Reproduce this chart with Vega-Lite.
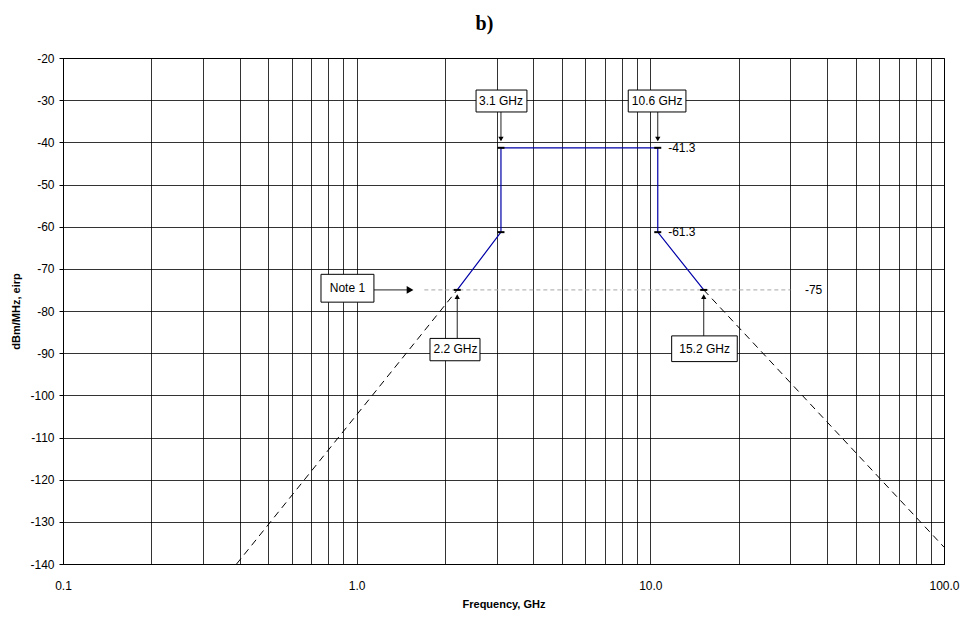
{
  "$schema": "https://vega.github.io/schema/vega-lite/v6.json",
  "autosize": "none",
  "width": 881,
  "height": 506,
  "padding": {"left": 63, "top": 58, "right": 22, "bottom": 53},
  "background": "white",
  "title": {"text": "b)", "font": "Liberation Serif", "fontSize": 20, "fontWeight": "bold", "color": "black", "anchor": "middle", "dx": -19, "baseline": "alphabetic", "offset": 2},
  "config": {
    "view": {"stroke": "black", "strokeWidth": 1},
    "axis": {"labelFont": "Liberation Sans", "labelFontSize": 12, "labelColor": "black", "titleFont": "Liberation Sans", "titleFontSize": 11, "titleFontWeight": "bold", "titleColor": "black", "gridColor": "black", "gridOpacity": 0.8, "gridWidth": 1, "domainColor": "black", "tickColor": "black", "labelFlush": false, "labelOverlap": false}
  },
  "datasets": {
    "blue": [{"i": 1, "f": 2.2, "v": -75}, {"i": 2, "f": 3.1, "v": -61.3}, {"i": 3, "f": 3.1, "v": -41.3}, {"i": 4, "f": 10.6, "v": -41.3}, {"i": 5, "f": 10.6, "v": -61.3}, {"i": 6, "f": 15.2, "v": -75}],
    "dashL": [{"f": 0.39, "v": -140}, {"f": 2.2, "v": -75}],
    "dashR": [{"f": 15.2, "v": -75}, {"f": 100, "v": -136}],
    "limit": [{"f": 1.7, "v": -75}, {"f": 30, "v": -75}],
    "boxes": [
      {"f": 2.55, "f2": 3.8, "v": -27.6, "v2": -32.8},
      {"f": 8.41, "f2": 13.22, "v": -27.6, "v2": -32.8},
      {"f": 0.756, "f2": 1.145, "v": -71.3, "v2": -77.9},
      {"f": 1.777, "f2": 2.63, "v": -86.5, "v2": -91.8},
      {"f": 11.82, "f2": 19.77, "v": -85.9, "v2": -92.0}
    ],
    "boxLabels": [
      {"f": 3.1, "v": -30.2, "label": "3.1 GHz"},
      {"f": 10.55, "v": -30.2, "label": "10.6 GHz"},
      {"f": 0.93, "v": -74.6, "label": "Note 1"},
      {"f": 2.17, "v": -89.1, "label": "2.2 GHz"},
      {"f": 15.3, "v": -88.9, "label": "15.2 GHz"}
    ],
    "valueLabels": [
      {"f": 11.5, "v": -41.3, "label": "-41.3"},
      {"f": 11.5, "v": -61.3, "label": "-61.3"},
      {"f": 33.6, "v": -75, "label": "-75"}
    ],
    "arrows": [
      {"f": 3.1, "f2": 3.1, "v": -32.8, "v2": -39.5},
      {"f": 10.6, "f2": 10.6, "v": -32.8, "v2": -39.5},
      {"f": 1.145, "f2": 1.5, "v": -75, "v2": -75},
      {"f": 2.2, "f2": 2.2, "v": -86.5, "v2": -77},
      {"f": 15.2, "f2": 15.2, "v": -85.9, "v2": -77}
    ],
    "headsDown": [{"f": 3.1, "v": -39.2}, {"f": 10.6, "v": -39.2}],
    "headsUp": [{"f": 2.2, "v": -76.6}, {"f": 15.2, "v": -76.6}],
    "headsRight": [{"f": 1.52, "v": -75}],
    "markers": [{"f": 2.2, "v": -75}, {"f": 3.1, "v": -61.3}, {"f": 3.1, "v": -41.3}, {"f": 10.6, "v": -41.3}, {"f": 10.6, "v": -61.3}, {"f": 15.2, "v": -75}]
  },
  "encoding": {
    "x": {"field": "f", "type": "quantitative", "scale": {"type": "log", "domain": [0.1, 100], "nice": false},
      "axis": {"title": "Frequency, GHz", "values": [0.1,0.2,0.3,0.4,0.5,0.6,0.7,0.8,0.9,1,2,3,4,5,6,7,8,9,10,20,30,40,50,60,70,80,90,100], "labelExpr": "(datum.value == 0.1 || datum.value == 1 || datum.value == 10 || datum.value == 100) ? format(datum.value, '.1f') : ''", "ticks": false, "labelPadding": 16, "titlePadding": 7, "grid": true}},
    "y": {"field": "v", "type": "quantitative", "scale": {"domain": [-140, -20], "nice": false, "zero": false},
      "axis": {"title": "dBm/MHz, eirp", "values": [-140,-130,-120,-110,-100,-90,-80,-70,-60,-50,-40,-30,-20], "labelExpr": "toString(datum.value)", "tickSize": 4, "labelPadding": 5, "titlePadding": 8, "grid": true}}
  },
  "layer": [
    {"data": {"name": "limit"}, "mark": {"type": "line", "color": "#a6a6a6", "strokeWidth": 1, "strokeDash": [4, 3]}},
    {"data": {"name": "dashL"}, "mark": {"type": "line", "color": "black", "strokeWidth": 1, "strokeDash": [7, 5], "clip": true}},
    {"data": {"name": "dashR"}, "mark": {"type": "line", "color": "black", "strokeWidth": 1, "strokeDash": [7, 5], "clip": true}},
    {"data": {"name": "blue"}, "mark": {"type": "line", "color": "#0000a8", "strokeWidth": 1.2}, "encoding": {"order": {"field": "i", "type": "quantitative"}}},
    {"data": {"name": "markers"}, "mark": {"type": "point", "shape": "M-1,0L1,0", "size": 49, "stroke": "black", "strokeWidth": 2, "filled": false, "opacity": 1}},
    {"data": {"name": "arrows"}, "mark": {"type": "rule", "color": "#222", "strokeWidth": 1}, "encoding": {"x2": {"field": "f2"}, "y2": {"field": "v2"}}},
    {"data": {"name": "headsDown"}, "mark": {"type": "point", "shape": "triangle-down", "size": 28, "filled": true, "color": "black", "opacity": 1}},
    {"data": {"name": "headsUp"}, "mark": {"type": "point", "shape": "triangle-up", "size": 28, "filled": true, "color": "black", "opacity": 1}},
    {"data": {"name": "headsRight"}, "mark": {"type": "point", "shape": "triangle-right", "size": 60, "filled": true, "color": "black", "opacity": 1}},
    {"data": {"name": "boxes"}, "mark": {"type": "rect", "fill": "white", "stroke": "black", "strokeWidth": 1}, "encoding": {"x2": {"field": "f2"}, "y2": {"field": "v2"}}},
    {"data": {"name": "boxLabels"}, "mark": {"type": "text", "font": "Liberation Sans", "fontSize": 12, "color": "black", "align": "center", "baseline": "middle"}, "encoding": {"text": {"field": "label"}}},
    {"data": {"name": "valueLabels"}, "mark": {"type": "text", "font": "Liberation Sans", "fontSize": 12, "color": "black", "align": "left", "baseline": "middle"}, "encoding": {"text": {"field": "label"}}}
  ]
}
